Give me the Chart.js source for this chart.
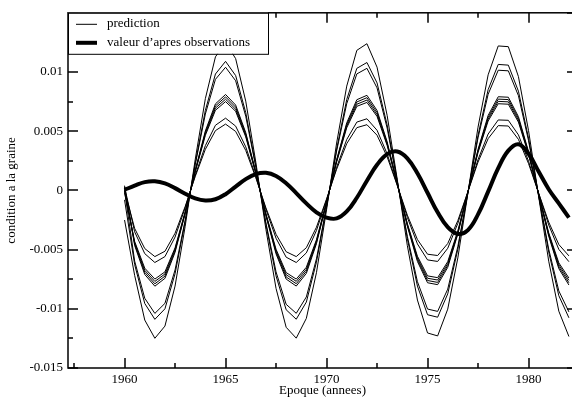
<!DOCTYPE html>
<html>
<head>
<meta charset="utf-8">
<script src="https://cdn.jsdelivr.net/npm/chart.js@4/dist/chart.umd.min.js"></script>
<style>
  html, body { margin: 0; padding: 0; background: #fff; }
  canvas { display: block; }
</style>
</head>
<body>
<canvas id="chart" width="572" height="399"></canvas>
<script>
'use strict';

const years = [
  1960, 1960.5, 1961, 1961.5, 1962, 1962.5, 1963, 1963.5, 1964, 1964.5,
  1965, 1965.5, 1966, 1966.5, 1967, 1967.5, 1968, 1968.5, 1969, 1969.5,
  1970, 1970.5, 1971, 1971.5, 1972, 1972.5, 1973, 1973.5, 1974, 1974.5,
  1975, 1975.5, 1976, 1976.5, 1977, 1977.5, 1978, 1978.5, 1979, 1979.5,
  1980, 1980.5, 1981, 1981.5, 1982
];

// model runs ("prediction")
const pred1 = [
  -0.0025, -0.00718, -0.01095, -0.01249, -0.01146, -0.00808, -0.00304, 0.00263, 0.00775, 0.01128,
  0.0125, 0.01113, 0.00754, 0.00236, -0.0033, -0.00828, -0.01156, -0.01248, -0.01081, -0.00695,
  -0.00164, 0.004, 0.00881, 0.01183, 0.01239, 0.01041, 0.00634, 0.00094, -0.00466, -0.00926,
  -0.01204, -0.01229, -0.01003, -0.0057, -0.00021, 0.00534, 0.00976, 0.0122, 0.01214, 0.00961,
  0.00506, -0.0005, -0.00598, -0.0102, -0.01234
];
const pred2 = [
  -0.0008, -0.00626, -0.00955, -0.01089, -0.01, -0.00704, -0.00265, 0.00229, 0.00676, 0.00983,
  0.0109, 0.0097, 0.00657, 0.00206, -0.00288, -0.00722, -0.01008, -0.01088, -0.00943, -0.00606,
  -0.00143, 0.00349, 0.00768, 0.01031, 0.0108, 0.00908, 0.00553, 0.00082, -0.00407, -0.00808,
  -0.0105, -0.01071, -0.00874, -0.00497, -0.00019, 0.00465, 0.00851, 0.01064, 0.01058, 0.00838,
  0.00441, -0.00044, -0.00521, -0.00889, -0.01076
];
const pred3 = [
  0, -0.00597, -0.00911, -0.01039, -0.00954, -0.00672, -0.00253, 0.00218, 0.00645, 0.00938,
  0.0104, 0.00926, 0.00627, 0.00197, -0.00275, -0.00688, -0.00962, -0.01038, -0.009, -0.00578,
  -0.00136, 0.00333, 0.00733, 0.00984, 0.01031, 0.00866, 0.00527, 0.00078, -0.00388, -0.00771,
  -0.01002, -0.01022, -0.00834, -0.00474, -0.00018, 0.00444, 0.00812, 0.01015, 0.0101, 0.008,
  0.00421, -0.00042, -0.00497, -0.00849, -0.01026
];
const pred4 = [
  0.0004, -0.00465, -0.0071, -0.00809, -0.00743, -0.00523, -0.00197, 0.0017, 0.00502, 0.00731,
  0.0081, 0.00721, 0.00488, 0.00153, -0.00214, -0.00536, -0.00749, -0.00808, -0.00701, -0.0045,
  -0.00106, 0.00259, 0.00571, 0.00766, 0.00803, 0.00675, 0.00411, 0.00061, -0.00302, -0.006,
  -0.0078, -0.00796, -0.0065, -0.00369, -0.00014, 0.00346, 0.00633, 0.00791, 0.00787, 0.00623,
  0.00328, -0.00032, -0.00387, -0.00661, -0.00799
];
const pred5 = [
  0.0002, -0.00453, -0.00692, -0.00789, -0.00724, -0.0051, -0.00192, 0.00166, 0.0049, 0.00713,
  0.0079, 0.00703, 0.00476, 0.00149, -0.00209, -0.00523, -0.00731, -0.00788, -0.00683, -0.00439,
  -0.00103, 0.00253, 0.00557, 0.00747, 0.00783, 0.00658, 0.00401, 0.00059, -0.00295, -0.00585,
  -0.00761, -0.00777, -0.00634, -0.0036, -0.00013, 0.00337, 0.00617, 0.00771, 0.00767, 0.00608,
  0.0032, -0.00032, -0.00378, -0.00645, -0.0078
];
const pred6 = [
  0, -0.00442, -0.00675, -0.00769, -0.00706, -0.00497, -0.00187, 0.00162, 0.00477, 0.00695,
  0.0077, 0.00685, 0.00464, 0.00146, -0.00203, -0.0051, -0.00712, -0.00768, -0.00666, -0.00428,
  -0.00101, 0.00246, 0.00543, 0.00728, 0.00763, 0.00641, 0.0039, 0.00058, -0.00287, -0.00571,
  -0.00742, -0.00757, -0.00618, -0.00351, -0.00013, 0.00329, 0.00601, 0.00752, 0.00748, 0.00592,
  0.00312, -0.00031, -0.00368, -0.00628, -0.0076
];
const pred7 = [
  -0.0002, -0.00431, -0.00657, -0.00749, -0.00688, -0.00485, -0.00182, 0.00158, 0.00465, 0.00677,
  0.0075, 0.00668, 0.00452, 0.00142, -0.00198, -0.00497, -0.00694, -0.00749, -0.00649, -0.00417,
  -0.00098, 0.0024, 0.00529, 0.0071, 0.00743, 0.00625, 0.0038, 0.00056, -0.0028, -0.00556,
  -0.00722, -0.00737, -0.00602, -0.00342, -0.00013, 0.0032, 0.00586, 0.00732, 0.00728, 0.00577,
  0.00304, -0.0003, -0.00359, -0.00612, -0.0074
];
const pred8 = [
  0.0003, -0.0035, -0.00534, -0.00609, -0.00559, -0.00394, -0.00148, 0.00128, 0.00378, 0.0055,
  0.0061, 0.00543, 0.00368, 0.00115, -0.00161, -0.00404, -0.00564, -0.00609, -0.00528, -0.00339,
  -0.0008, 0.00195, 0.0043, 0.00577, 0.00605, 0.00508, 0.00309, 0.00046, -0.00228, -0.00452,
  -0.00587, -0.006, -0.00489, -0.00278, -0.0001, 0.0026, 0.00476, 0.00595, 0.00592, 0.00469,
  0.00247, -0.00024, -0.00292, -0.00498, -0.00602
];
const pred9 = [
  0, -0.00321, -0.00491, -0.00559, -0.00514, -0.00362, -0.00136, 0.00118, 0.00347, 0.00505,
  0.0056, 0.00498, 0.00338, 0.00106, -0.00148, -0.00371, -0.00518, -0.00559, -0.00484, -0.00311,
  -0.00073, 0.00179, 0.00395, 0.0053, 0.00555, 0.00466, 0.00284, 0.00042, -0.00209, -0.00415,
  -0.00539, -0.0055, -0.00449, -0.00255, -0.0001, 0.00239, 0.00437, 0.00547, 0.00544, 0.00431,
  0.00227, -0.00022, -0.00268, -0.00457, -0.00553
];

// observed ("valeur d'apres observations")
const observed = [
  0.00005, 0.0004, 0.0007, 0.00077, 0.00059, 0.00019, -0.00028, -0.00068, -0.00086, -0.00075,
  -0.00032, 0.00032, 0.00095, 0.00138, 0.00149, 0.00122, 0.0006, -0.00023, -0.0011, -0.00185,
  -0.0023, -0.00237, -0.00178, -0.00062, 0.00082, 0.00216, 0.00306, 0.00328, 0.00271, 0.00145,
  -0.0002, -0.00185, -0.00311, -0.00368, -0.00335, -0.00203, -0.0001, 0.00188, 0.00336, 0.0039,
  0.0031, 0.0016, 0.0001, -0.0011, -0.0023
];

const xTicks = [1957.5, 1960, 1962.5, 1965, 1967.5, 1970, 1972.5, 1975, 1977.5, 1980];
const xTickLabels = ['', '1960', '', '1965', '', '1970', '', '1975', '', '1980'];
const yTicks = [-0.015, -0.0125, -0.01, -0.0075, -0.005, -0.0025, 0, 0.0025, 0.005, 0.0075, 0.01, 0.0125, 0.015];
const yTickLabels = ['-0.015', '', '-0.01', '', '-0.005', '', '0', '', '0.005', '', '0.01', '', ''];
const legendLabels = ['prediction', 'valeur d\u2019apres observations'];

const FONT = "'Liberation Serif', 'Times New Roman', serif";
const overhang = 5; // right frame sits just past the picture edge

Chart.defaults.font.family = FONT;
Chart.defaults.font.size = 13;
Chart.defaults.color = '#000';

function toPoints(values) {
  return values.map((v, i) => ({ x: years[i], y: v }));
}

const predictions = [pred1, pred2, pred3, pred4, pred5, pred6, pred7, pred8, pred9];
const datasets = predictions.map(p => ({
  label: legendLabels[0],
  data: toPoints(p),
  borderColor: '#000',
  borderWidth: 1,
  pointRadius: 0,
  tension: 0
}));
datasets.push({
  label: legendLabels[1],
  data: toPoints(observed),
  borderColor: '#000',
  borderWidth: 4,
  pointRadius: 0,
  tension: 0.4
});

function line(ctx, x1, y1, x2, y2) {
  ctx.beginPath();
  ctx.moveTo(x1, y1);
  ctx.lineTo(x2, y2);
  ctx.stroke();
}

const framePlugin = {
  id: 'frame',
  afterLayout(chart) {
    const area = chart.chartArea;
    const xs = chart.scales.x;
    area.right += overhang;
    area.width = area.right - area.left;
    xs.right += overhang;
    xs.width = xs.right - xs.left;
    xs.configure();
  },
  afterDraw(chart) {
    const ctx = chart.ctx;
    const a = chart.chartArea;
    const xs = chart.scales.x;
    const ys = chart.scales.y;
    ctx.save();
    ctx.strokeStyle = '#000';
    ctx.lineWidth = 1.5;
    ctx.strokeRect(a.left, a.top, a.right - a.left, a.bottom - a.top);

    // inward tick marks on all four sides
    xs.ticks.forEach((t, i) => {
      const px = Math.round(xs.getPixelForValue(t.value));
      const len = xTickLabels[i] !== '' ? 10 : 5;
      line(ctx, px, a.bottom, px, a.bottom - len);
      line(ctx, px, a.top, px, a.top + len);
    });
    ys.ticks.forEach((t, i) => {
      const py = Math.round(ys.getPixelForValue(t.value));
      const len = i % 2 === 0 ? 10 : 5;
      line(ctx, a.left, py, a.left + len, py);
      line(ctx, a.right, py, a.right - len, py);
    });

    // legend box inside the plot, drawn over the curves
    const bx = a.left, by = a.top, bw = 200, bh = 41;
    ctx.fillStyle = '#fff';
    ctx.fillRect(bx, by, bw, bh);
    ctx.lineWidth = 1;
    ctx.strokeRect(bx + 0.5, by + 0.5, bw, bh);
    line(ctx, bx + 8, by + 11.5, bx + 29, by + 11.5);
    ctx.lineWidth = 4;
    line(ctx, bx + 8, by + 30, bx + 29, by + 30);
    ctx.fillStyle = '#000';
    ctx.font = '13px ' + FONT;
    ctx.textBaseline = 'middle';
    ctx.textAlign = 'left';
    ctx.fillText(legendLabels[0], bx + 39, by + 11);
    ctx.fillText(legendLabels[1], bx + 39, by + 29.5);
    ctx.restore();
  }
};

new Chart(document.getElementById('chart'), {
  type: 'line',
  data: { datasets: datasets },
  options: {
    responsive: false,
    animation: false,
    devicePixelRatio: 1,
    layout: { autoPadding: false, padding: { top: 11, right: 0, bottom: 0, left: 0 } },
    plugins: {
      legend: { display: false },
      tooltip: { enabled: false }
    },
    scales: {
      x: {
        type: 'linear',
        min: 1957.2,
        max: 1982.4,
        grid: { display: false, drawTicks: false },
        border: { display: false },
        afterBuildTicks: s => { s.ticks = xTicks.map(v => ({ value: v })); },
        afterFit: s => { s.height = 31; },
        ticks: {
          autoSkip: false,
          maxRotation: 0,
          padding: 4,
          callback: (v, i) => xTickLabels[i]
        },
        title: {
          display: true,
          text: 'Epoque (annees)',
          padding: { top: 0, bottom: 1 }
        }
      },
      y: {
        min: -0.015,
        max: 0.015,
        grid: { display: false, drawTicks: false },
        border: { display: false },
        afterBuildTicks: s => { s.ticks = yTicks.map(v => ({ value: v })); },
        afterFit: s => { s.width = 68; },
        ticks: {
          autoSkip: false,
          padding: 5,
          callback: (v, i) => yTickLabels[i]
        },
        title: {
          display: true,
          text: 'condition a la graine',
          padding: { top: 4, bottom: 0 }
        }
      }
    }
  },
  plugins: [framePlugin]
});
</script>
</body>
</html>
